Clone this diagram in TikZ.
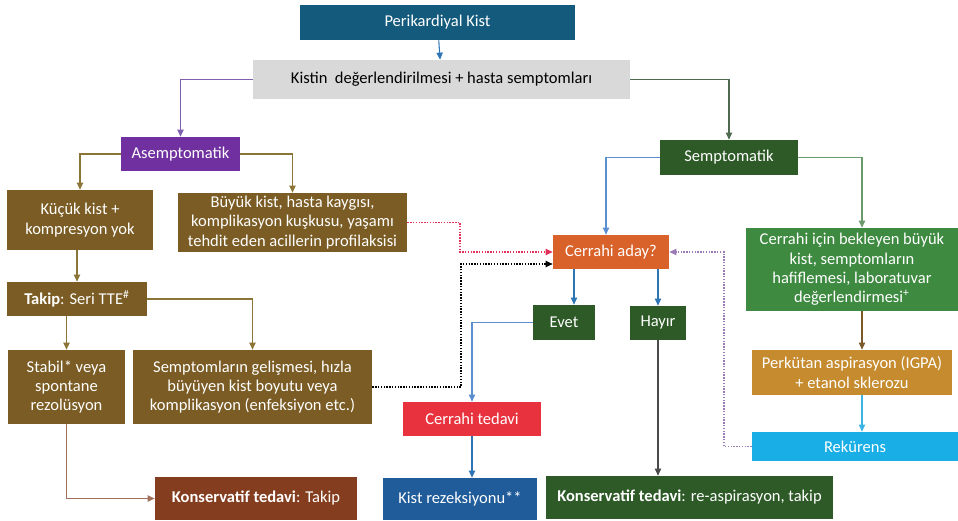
\documentclass[tikz,border=0pt]{standalone}
\usepackage{fontspec}
\setmainfont{Carlito}
\usetikzlibrary{arrows.meta,calc}
\definecolor{pkblue}{HTML}{145A7C}
\definecolor{lightgray}{HTML}{D9D9D9}
\definecolor{asempurple}{HTML}{7030A0}
\definecolor{darkgreen}{HTML}{2D5A27}
\definecolor{brownbox}{HTML}{7A5C24}
\definecolor{rustbox}{HTML}{843E1F}
\definecolor{orangebox}{HTML}{D9622B}
\definecolor{redbox}{HTML}{E8333F}
\definecolor{bluebox}{HTML}{1F5C99}
\definecolor{midgreen}{HTML}{3E8A41}
\definecolor{ochrebox}{HTML}{C58B2E}
\definecolor{skybox}{HTML}{1AAEE6}
\definecolor{arrblue}{HTML}{2E75B6}
\definecolor{arrpurple}{HTML}{7F5FB0}
\definecolor{arrgreen}{HTML}{4F6B4F}
\definecolor{arrolive}{HTML}{8B7536}
\definecolor{arrrose}{HTML}{A0705A}
\definecolor{arrcrimson}{HTML}{E0305A}
\definecolor{arrlblue}{HTML}{5B8FD0}
\definecolor{arrlgreen}{HTML}{6A9A6A}
\definecolor{arrgray}{HTML}{4A4A4A}
\definecolor{arrbrown}{HTML}{7A5A2A}
\definecolor{arrcyan}{HTML}{3BB5E5}
\definecolor{arrlilac}{HTML}{9B7BB5}
\begin{document}
\begin{tikzpicture}[x=0.02cm,y=-0.02cm,
  every node/.style={font=\fontsize{9.4}{11}\selectfont, align=center, inner sep=1pt},
  box/.style={text=white},
  link/.style={-{Triangle[length=4pt,width=3.6pt]}, line width=0.6pt},
  dots/.style={dash pattern=on 0.8pt off 0.8pt}]
   \useasboundingbox (0,0) rectangle (958,521);
   % boxes
   \node [box, fill=pkblue, minimum width=5.5cm, minimum height=0.7cm] (pk) at (437.5,22.5) {Perikardiyal Kist};
   \node [fill=lightgray, minimum width=7.54cm, minimum height=0.78cm] (deg) at (441.5,79.5) {Kistin\ \ değerlendirilmesi + hasta semptomları};
   \node [box, fill=asempurple, minimum width=2.38cm, minimum height=0.68cm] (asem) at (180.5,154) {Asemptomatik};
   \node [box, fill=darkgreen, minimum width=2.76cm, minimum height=0.7cm] (sem) at (729,157.5) {Semptomatik};
   \node [box, fill=brownbox, minimum width=2.92cm, minimum height=1.2cm] (kucuk) at (80,220) {Küçük kist +\\kompresyon yok};
   \node [box, fill=brownbox, minimum width=4.58cm, minimum height=1.18cm] (buyuk) at (292.5,222.5) {Büyük kist, hasta kaygısı,\\komplikasyon kuşkusu, yaşamı\\tehdit eden acillerin profilaksisi};
   \node [box, fill=brownbox, minimum width=2.8cm, minimum height=0.68cm] (takip) at (77,299) {\textbf{Takip}: Seri TTE\textsuperscript{\#}};
   \node [box, fill=brownbox, minimum width=2.34cm, minimum height=1.48cm] (stabil) at (66.5,387) {Stabil* veya\\spontane\\rezolüsyon};
   \node [box, fill=brownbox, minimum width=4.78cm, minimum height=1.48cm] (gelis) at (252.5,387) {Semptomların gelişmesi, hızla\\büyüyen kist boyutu veya\\komplikasyon (enfeksiyon etc.)};
   \node [box, fill=rustbox, minimum width=4.04cm, minimum height=0.86cm] (kontakip) at (256,498.5) {\textbf{Konservatif tedavi}: Takip};
   \node [box, fill=orangebox, minimum width=2.32cm, minimum height=0.68cm] (aday) at (611,252) {Cerrahi aday?};
   \node [box, fill=darkgreen, minimum width=1.24cm, minimum height=0.7cm] (evet) at (564,322.5) {Evet};
   \node [box, fill=darkgreen, minimum width=1.12cm, minimum height=0.68cm] (hayir) at (658,323) {Hayır};
   \node [box, fill=redbox, minimum width=2.76cm, minimum height=0.68cm] (ctedavi) at (472,419) {Cerrahi tedavi};
   \node [box, fill=bluebox, minimum width=3.08cm, minimum height=0.84cm] (rezek) at (460,499) {Kist rezeksiyonu**};
   \node [box, fill=darkgreen, minimum width=5.74cm, minimum height=0.86cm] (konres) at (689.5,497.5) {\textbf{Konservatif tedavi}: re-aspirasyon, takip};
   \node [box, fill=midgreen, minimum width=4.24cm, minimum height=1.66cm] (bekle) at (852,269.5) {Cerrahi için bekleyen büyük\\kist, semptomların\\hafiflemesi, laboratuvar\\değerlendirmesi\textsuperscript{+}};
   \node [box, fill=ochrebox, minimum width=4cm, minimum height=0.9cm] (perk) at (852,372.5) {Perkütan aspirasyon (IGPA)\\+ etanol sklerozu};
   \node [box, fill=skybox, minimum width=4.12cm, minimum height=0.58cm] (rek) at (855,446.5) {Rekürens};
   % helper points
   \coordinate (rk) at (460,252);
   \coordinate (bk) at (461,264);
   \coordinate (pv) at (724,252);
   \coordinate (ev) at ($(evet.north)+(10,0)$);
   \coordinate (ad) at ($(aday.north)+(-5,0)$);
   \coordinate (bt) at ($(bekle.north)+(10,0)$);
   \coordinate (pt) at ($(perk.north)+(10,0)$);
   % connectors
   \draw [link, arrblue] (pk) -- (deg);
   \draw [link, arrpurple] (deg.west) -| (asem.north);
   \draw [link, arrgreen] (deg.east) -| (sem.north);
   \draw [link, arrolive] (asem.west) -| (kucuk.north);
   \draw [link, arrolive] (asem.east) -| (buyuk.north);
   \draw [link, arrolive] (takip.north |- kucuk.south) -- (takip.north);
   \draw [link, arrolive] (takip.east) -| (gelis.north);
   \draw [link, arrolive] (stabil.north |- takip.south) -- (stabil.north);
   \draw [link, arrrose] (stabil.south) |- (kontakip.west);
   \draw [link, arrcrimson, dots] (buyuk.east) -| (rk) -- (aday.west);
   \draw [link, black, dots] (gelis.east) -| (bk) -- (bk -| aday.west);
   \draw [link, arrlilac, dots] (rek.west) -| (pv) -- (aday.east);
   \draw [link, arrlblue] (sem.west) -| (ad);
   \draw [link, arrlgreen] (sem.east) -| (bt);
   \draw [link, arrblue] (ev |- aday.south) -- (ev);
   \draw [link, arrblue] (hayir.north |- aday.south) -- (hayir.north);
   \draw [link, arrlblue] (evet.west) -| (ctedavi.north);
   \draw [link, arrgray] (hayir.south) -- (hayir.south |- konres.north);
   \draw [link, arrblue] (ctedavi.south) -- (ctedavi.south |- rezek.north);
   \draw [link, arrbrown] (bt |- bekle.south) -- (pt);
   \draw [link, arrcyan] (pt |- perk.south) -- (pt |- rek.north);
  \end{tikzpicture}
\end{document}
